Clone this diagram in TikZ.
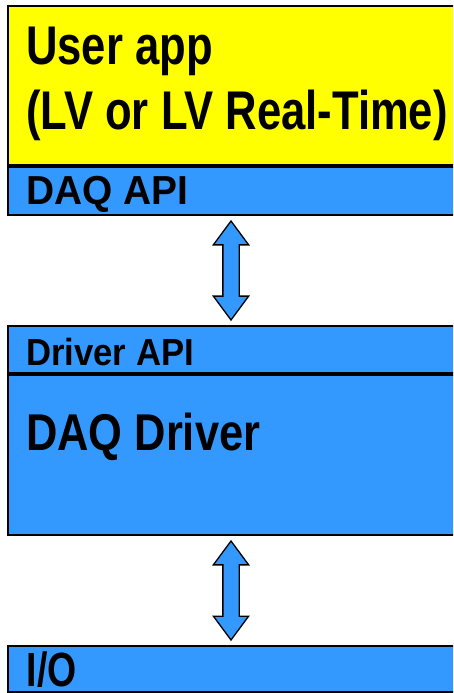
\documentclass[tikz,border=0pt]{standalone}
\usepackage{fontspec}
\setmainfont{Liberation Sans}
\usetikzlibrary{shapes.arrows,calc}
\definecolor{appyellow}{RGB}{255,255,0}
\definecolor{daqblue}{RGB}{51,153,255}

\begin{document}
\begin{tikzpicture}[line join=miter,x=1pt,y=-1pt,
	layer/.style={draw=black,line width=2pt,anchor=north west,inner sep=0pt,minimum width=480pt},
	txt/.style={anchor=base west,inner sep=0pt},
	link/.style={double arrow,draw=black,line width=1.3pt,fill=daqblue,rotate=90,inner xsep=0pt,inner ysep=7.5pt,
		minimum height=99pt,minimum width=34pt,double arrow head extend=9.5pt,double arrow tip angle=73}]
			\useasboundingbox (0,0) rectangle (453,693);
			\clip (0,0) rectangle (453,693);
			\node[layer,fill=appyellow,minimum height=159pt] (app) at (7,5) {};
			\node[layer,fill=daqblue,minimum height=48pt] (daqapi) at (app.south west) {};
			\node[layer,fill=daqblue,minimum height=47pt] (drvapi) at (7,325) {};
			\node[layer,fill=daqblue,minimum height=160pt] (driver) at (drvapi.south west) {};
			\node[layer,fill=daqblue,minimum height=46pt] (io) at (7,645) {};
			\coordinate (gap1) at ($(daqapi.south)!0.5!(drvapi.north)$);
			\coordinate (gap2) at ($(driver.south)!0.5!(io.north)$);
			\node[link] (link1) at (231,0 |- gap1) {};
			\node[link] (link2) at (231,0 |- gap2) {};
			\node[txt,font=\bfseries\fontsize{54.5}{65}\selectfont] (appname) at (26,65) {\scalebox{0.8}[1]{User app}};
			\node[txt,font=\bfseries\fontsize{54.5}{65}\selectfont] (appkind) at (26,129) {\scalebox{0.8}[1]{(LV or LV Real-Time)}};
			\node[txt,font=\bfseries\fontsize{40.5}{48}\selectfont] (daqapitxt) at (26,204) {\scalebox{0.96}[1]{DAQ API}};
			\node[txt,font=\bfseries\fontsize{37.7}{45}\selectfont] (drvapitxt) at (26,365) {\scalebox{0.92}[1]{Driver API}};
			\node[txt,font=\bfseries\fontsize{51.7}{62}\selectfont] (drivertxt) at (26,450) {\scalebox{0.84}[1]{DAQ Driver}};
			\node[txt,font=\bfseries\fontsize{48}{58}\selectfont] (iotxt) at (26.5,686) {\scalebox{0.78}[1]{I/O}};
		\end{tikzpicture}
\end{document}
